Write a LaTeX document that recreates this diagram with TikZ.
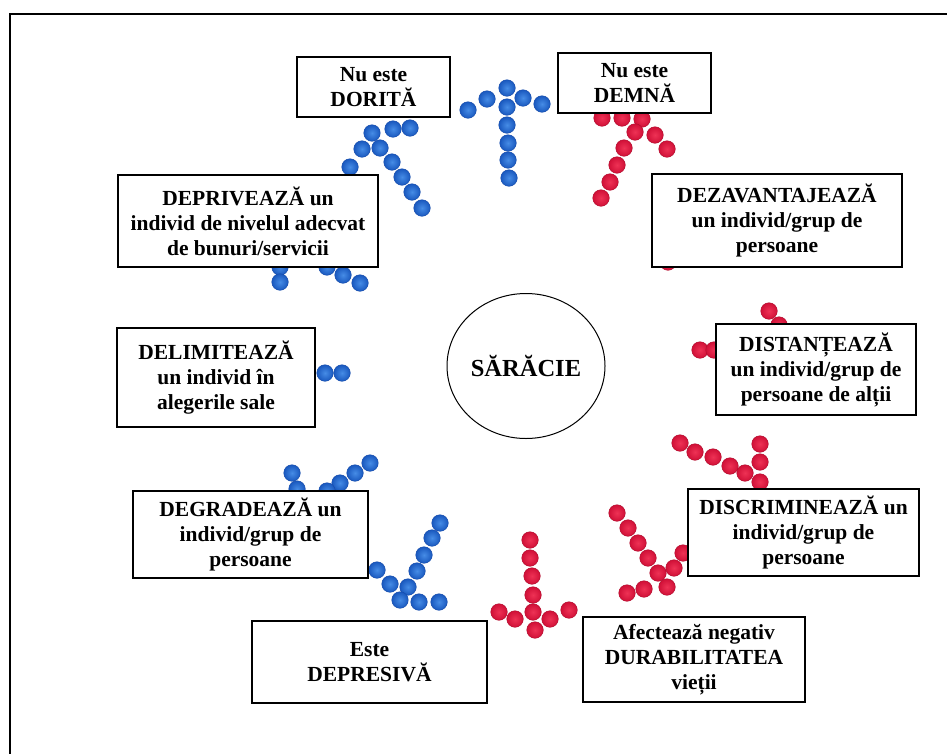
\documentclass[tikz,border=0pt]{standalone}
\usepackage{fontspec}
\setmainfont{Liberation Serif}
\usetikzlibrary{shapes.geometric}
\tikzset{
  box/.style={draw=black, line width=1.2pt, fill=white, align=center, inner sep=0pt,
    font=\bfseries\fontsize{21.5}{25}\selectfont},
  bluedot/.style={shading=radial, inner color={rgb,255:red,70;green,140;blue,230},
    outer color={rgb,255:red,25;green,88;blue,190}, draw={rgb,255:red,22;green,75;blue,170}, line width=0.4pt},
  reddot/.style={shading=radial, inner color={rgb,255:red,238;green,50;blue,85},
    outer color={rgb,255:red,208;green,16;blue,55}, draw={rgb,255:red,175;green,12;blue,45}, line width=0.4pt},
}
\begin{document}
\begin{tikzpicture}[x=1pt, y=-1pt]
\useasboundingbox (0,0) rectangle (947,753);
\fill[white] (0,0) rectangle (947,753);
% outer frame (only left and top edges visible)
\draw[line width=1.6pt] (10,760) -- (10,14) -- (955,14);

% blue dot arrows
\foreach \p in {(507,88),(468,110),(487,99),(523,98),(542,104),(507,107),(507,125),(508,143),(508,160),(509,178),
  (410,128),(393,129),(372,133),(380,148),(392,162),(402,177),(412,192),(422,208),(362,149),(350,167),
  (280,267),(280,282),(327,267),(343,275),(360,283),
  (325,373),(342,373),
  (292,473),(297,489),(370,463),(355,473),(340,483),(327,491),
  (440,523),(432,538),(424,555),(417,571),(408,587),(400,600),(377,570),(390,584),(419,602),(439,602)}
  \path[bluedot] \p circle (8.3);

% red dot arrows
\foreach \p in {(530,540),(530,558),(532,576),(533,595),(533,612),(535,630),(499,612),(515,619),(550,619),(569,610),
  (617,513),(628,528),(638,543),(648,558),(658,573),(667,587),(627,593),(644,589),(674,568),(683,553),
  (680,443),(695,452),(713,457),(730,466),(745,473),(760,482),(760,444),(760,462),
  (700,350),(714,350),(769,311),(779,325),
  (602,118),(622,118),(642,119),(635,132),(655,135),(667,149),(624,148),(617,165),(610,182),(601,198),
  (668,262)}
  \path[reddot] \p circle (8.3);

% centre
\node[draw=black, line width=1pt, ellipse, minimum width=158pt, minimum height=145pt, inner sep=0pt,
  font=\bfseries\fontsize{24.5}{28}\selectfont] (center) at (526,366) {\raisebox{-4pt}{SĂRĂCIE}};

% text boxes
\node[box, minimum width=153pt, minimum height=60pt] (dorita) at (373.5,87) {Nu este\\DORITĂ};
\node[box, minimum width=153pt, minimum height=60pt] (demna) at (634.5,83) {Nu este\\DEMNĂ};
\node[box, minimum width=260pt, minimum height=92pt] (depriveaza) at (248,221) {DEPRIVEAZĂ un\\individ de nivelul adecvat\\de bunuri/servicii};
\node[box, minimum width=198pt, minimum height=99pt] (delimiteaza) at (216,377.5) {DELIMITEAZĂ\\un individ în\\alegerile sale};
\node[box, minimum width=250pt, minimum height=93pt] (dezavantajeaza) at (777,220.5) {DEZAVANTAJEAZĂ\\un individ/grup de\\persoane};
\node[box, minimum width=200pt, minimum height=91pt] (distanteaza) at (816,369.5) {DISTANȚEAZĂ\\un individ/grup de\\persoane de alții};
\node[box, minimum width=235pt, minimum height=87pt] (degradeaza) at (250.5,534.5) {DEGRADEAZĂ un\\individ/grup de\\persoane};
\node[box, minimum width=235pt, minimum height=82pt] (depresiva) at (369.5,662) {Este\\DEPRESIVĂ};
\node[box, minimum width=231pt, minimum height=87pt] (discrimineaza) at (803.5,532.5) {DISCRIMINEAZĂ un\\individ/grup de\\persoane};
\node[box, minimum width=222pt, minimum height=85pt] (afecteaza) at (694,659.5) {Afectează negativ\\DURABILITATEA\\vieții};
\end{tikzpicture}
\end{document}
